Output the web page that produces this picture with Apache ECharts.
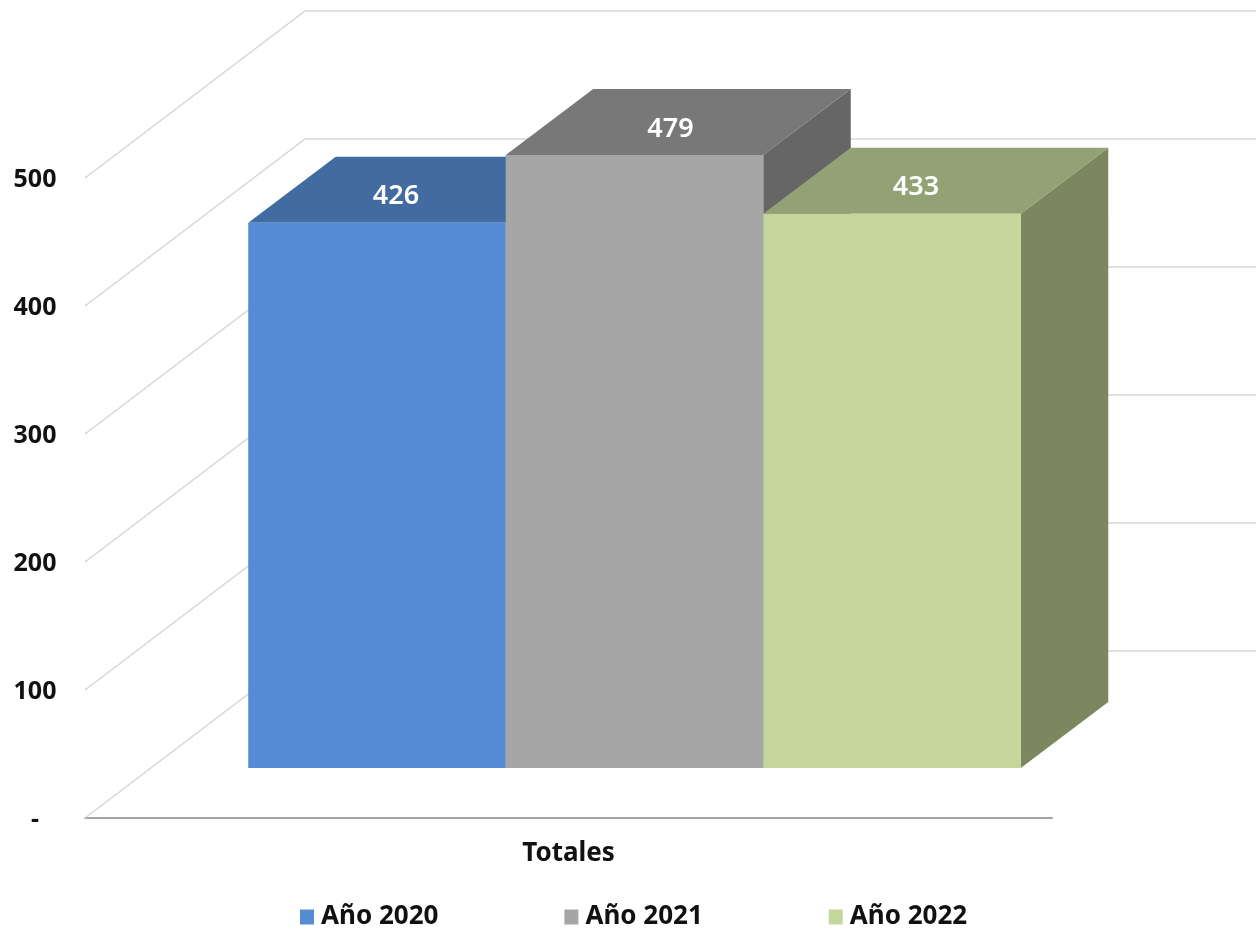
<!DOCTYPE html>
<html>
<head>
<meta charset="utf-8">
<style>html,body{margin:0;padding:0;background:#fff}#c{width:1256px;height:928px}</style>
<script src="https://cdn.jsdelivr.net/npm/echarts@6/dist/echarts.min.js"></script>
</head>
<body>
<div id="c"></div>
<script>
const categories = ['Totales'];
const seriesNames = ['Año 2020', 'Año 2021', 'Año 2022'];
const seriesValues = [426, 479, 433];
const wallTicks = [0, 100, 200, 300, 400, 500];

const frontColors = ['#568cd6', '#a6a6a6', '#c4d69b'];
const topColors = ['#426ca1', '#787878', '#92a275'];
const sideColors = ['#345680', '#666666', '#7c8760'];
const labelShifts = [19, 36, 24];

const FONT = '"Noto Sans", sans-serif';
const PLANE = { x: 66, y: -50 };
const DEPTH = { x: 87.5, y: -66 };
const WALL = { x: 220, y: -167 };
const BAR_RATIO = 0.2663;

function poly(points, fill) {
  return { type: 'polygon', shape: { points }, style: { fill }, silent: true };
}

function renderBar(i) {
  return function (params, api) {
    const top = api.coord([api.value(0), api.value(1)]);
    const base = api.coord([api.value(0), 0]);
    const w = api.size([1, 0])[0] * BAR_RATIO;
    const x0 = top[0] + PLANE.x + (i - 1.5) * w;
    const x1 = x0 + w;
    const yT = top[1] + PLANE.y;
    const yB = base[1] + PLANE.y;
    const dx = DEPTH.x, dy = DEPTH.y;
    return {
      type: 'group',
      children: [
        poly([[x1, yT], [x1 + dx, yT + dy], [x1 + dx, yB + dy], [x1, yB]], sideColors[i]),
        poly([[x0, yT], [x0 + dx, yT + dy], [x1 + dx, yT + dy], [x1, yT]], topColors[i]),
        poly([[x0, yT], [x1, yT], [x1, yB], [x0, yB]], frontColors[i]),
        {
          type: 'text',
          silent: true,
          style: {
            x: (x0 + x1) / 2 + labelShifts[i],
            y: yT - 26,
            text: String(api.value(1)),
            fill: '#ffffff',
            font: '600 27px ' + FONT,
            align: 'center',
            verticalAlign: 'middle'
          }
        }
      ]
    };
  };
}

function renderWall(params, api) {
  const p = api.coord([0, api.value(0)]);
  const left = params.coordSys.x;
  const y = p[1];
  return {
    type: 'polyline',
    silent: true,
    shape: { points: [[left, y], [left + WALL.x, y + WALL.y], [1256, y + WALL.y]] },
    style: { stroke: '#d6d6d6', lineWidth: 1.5, fill: null }
  };
}

const series = [{
  type: 'custom',
  name: 'walls',
  coordinateSystem: 'cartesian2d',
  renderItem: renderWall,
  clip: false,
  silent: true,
  encode: { y: 0 },
  data: wallTicks.map(v => [v]),
  z: 1
}];

seriesNames.forEach((name, i) => {
  series.push({
    type: 'custom',
    name,
    coordinateSystem: 'cartesian2d',
    renderItem: renderBar(i),
    clip: false,
    silent: true,
    itemStyle: { color: frontColors[i] },
    encode: { x: 0, y: 1 },
    data: [[0, seriesValues[i]]],
    z: 2 + i
  });
});

const chart = echarts.init(document.getElementById('c'), null, { renderer: 'canvas' });
chart.setOption({
  animation: false,
  backgroundColor: '#ffffff',
  grid: { left: 85, right: 204, top: 178, bottom: 110, containLabel: false },
  xAxis: {
    type: 'category',
    data: categories,
    axisLine: { show: true, lineStyle: { color: '#a3a3a3', width: 2 } },
    axisTick: { show: false },
    axisLabel: { color: '#111111', fontFamily: FONT, fontWeight: 'bold', fontSize: 26, margin: 23 }
  },
  yAxis: {
    type: 'value',
    min: 0,
    max: 500,
    interval: 100,
    axisLine: { show: false },
    axisTick: { show: false },
    splitLine: { show: false },
    axisLabel: {
      color: '#111111',
      fontFamily: FONT,
      fontWeight: 'bold',
      fontSize: 25,
      align: 'center',
      verticalAlign: 'top',
      lineHeight: 4,
      margin: 50,
      formatter: v => (v === 0 ? '-' : String(v))
    }
  },
  legend: {
    data: seriesNames,
    left: 295,
    top: 899,
    icon: 'rect',
    itemWidth: 14,
    itemHeight: 15,
    itemGap: 126,
    textStyle: { color: '#111111', fontFamily: FONT, fontWeight: 'bold', fontSize: 26, padding: [0, 0, 0, 2] }
  },
  series
});
</script>
</body>
</html>
